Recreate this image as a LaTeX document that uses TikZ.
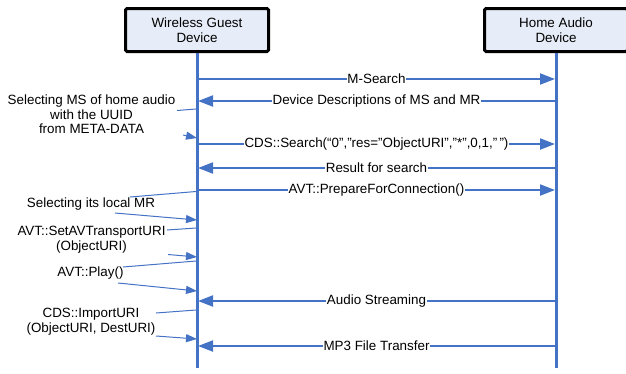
\documentclass[tikz,border=0pt]{standalone}
\usepackage{fontspec}
\setmainfont{Liberation Sans}
\usetikzlibrary{arrows.meta}
\definecolor{seqblue}{RGB}{68,114,196}
\definecolor{boxfill}{RGB}{231,237,248}
\newcommand{\seqfont}{\fontsize{13.4}{14.6}\selectfont}
\begin{document}
\begin{tikzpicture}[x=1pt,y=-1pt,
  actor/.style={draw=black,line width=3pt,fill=boxfill,rounded corners=1.5pt,
    minimum width=143pt,minimum height=43pt,align=center,font=\seqfont,inner sep=0pt},
  lifeline/.style={seqblue,line width=3pt},
  msg/.style={seqblue,line width=2pt,-{Triangle[length=15pt,width=11pt]}},
  msglabel/.style={fill=white,text=black,inner sep=0.8pt,font=\seqfont},
  note/.style={align=center,text=black,font=\seqfont,inner sep=0pt},
  noteline/.style={seqblue,line width=1pt},
  notearrow/.style={noteline,-{Triangle[length=11pt,width=8pt]}}
]
\useasboundingbox (0,0) rectangle (626,373);

% participants
\node[actor] (guest) at (197,30) {Wireless Guest\\Device};
\node[actor] (home)  at (556,30) {Home Audio\\Device};

% lifelines
\coordinate (gEnd) at (197,368);
\coordinate (hEnd) at (556,368);
\draw[lifeline] (guest.south) -- (gEnd);
\draw[lifeline] (home.south) -- (hEnd);

% lifeline anchor points for messages
\foreach \n/\y in {m1/79,m2/101,m3/144,m4/168,m5/190,m6/301,m7/346}{
  \coordinate (g\n) at (198,\y);
  \coordinate (h\n) at (555,\y);
}

% messages
\draw[msg] (gm1) -- node[msglabel] {M-Search} (hm1);
\draw[msg] (hm2) -- node[msglabel] {Device Descriptions of MS and MR} (gm2);
\draw[msg] (gm3) -- node[msglabel] {CDS::Search(“0”,”res=”ObjectURI”,”*”,0,1,”\,”)} (hm3);
\draw[msg] (hm4) -- node[msglabel] {Result for search} (gm4);
\draw[msg] (gm5) -- node[msglabel] {AVT::PrepareForConnection()} (hm5);
\draw[msg] (hm6) -- node[msglabel] {Audio Streaming} (gm6);
\draw[msg] (hm7) -- node[msglabel] {MP3 File Transfer} (gm7);

% local notes on the guest device
\node[note] (n1) at (91.5,114.5) {Selecting MS of home audio\\with the UUID\\from META-DATA};
\coordinate (n1a) at (177,110.5);
\coordinate (n1b) at (196,109);
\coordinate (n1c) at (183,135);
\coordinate (n1d) at (197,138);
\draw[noteline] (n1a) -- (n1b);
\draw[notearrow] (n1c) -- (n1d);

\node[note] (n2) at (91,204) {Selecting its local MR};
\coordinate (n2a) at (130,197);
\coordinate (n2b) at (196,191.5);
\coordinate (n2c) at (115,213);
\coordinate (n2d) at (197,220);
\draw[noteline] (n2a) -- (n2b);
\draw[notearrow] (n2c) -- (n2d);

\node[note] (n3) at (91.5,240) {AVT::SetAVTransportURI\\(ObjectURI)};
\coordinate (n3a) at (167,230);
\coordinate (n3b) at (196,228);
\coordinate (n3c) at (168,254.5);
\coordinate (n3d) at (197,257);
\draw[noteline] (n3a) -- (n3b);
\draw[notearrow] (n3c) -- (n3d);

\node[note] (n4) at (90.5,273) {AVT::Play()};
\coordinate (n4a) at (123,267);
\coordinate (n4b) at (196,261);
\coordinate (n4c) at (118,283);
\coordinate (n4d) at (197,291);
\draw[noteline] (n4a) -- (n4b);
\draw[notearrow] (n4c) -- (n4d);

\node[note] (n5) at (91,322) {CDS::ImportURI\\(ObjectURI, DestURI)};
\coordinate (n5a) at (156,313);
\coordinate (n5b) at (196,310);
\coordinate (n5c) at (156,336);
\coordinate (n5d) at (197,339);
\draw[noteline] (n5a) -- (n5b);
\draw[notearrow] (n5c) -- (n5d);
\end{tikzpicture}
\end{document}
